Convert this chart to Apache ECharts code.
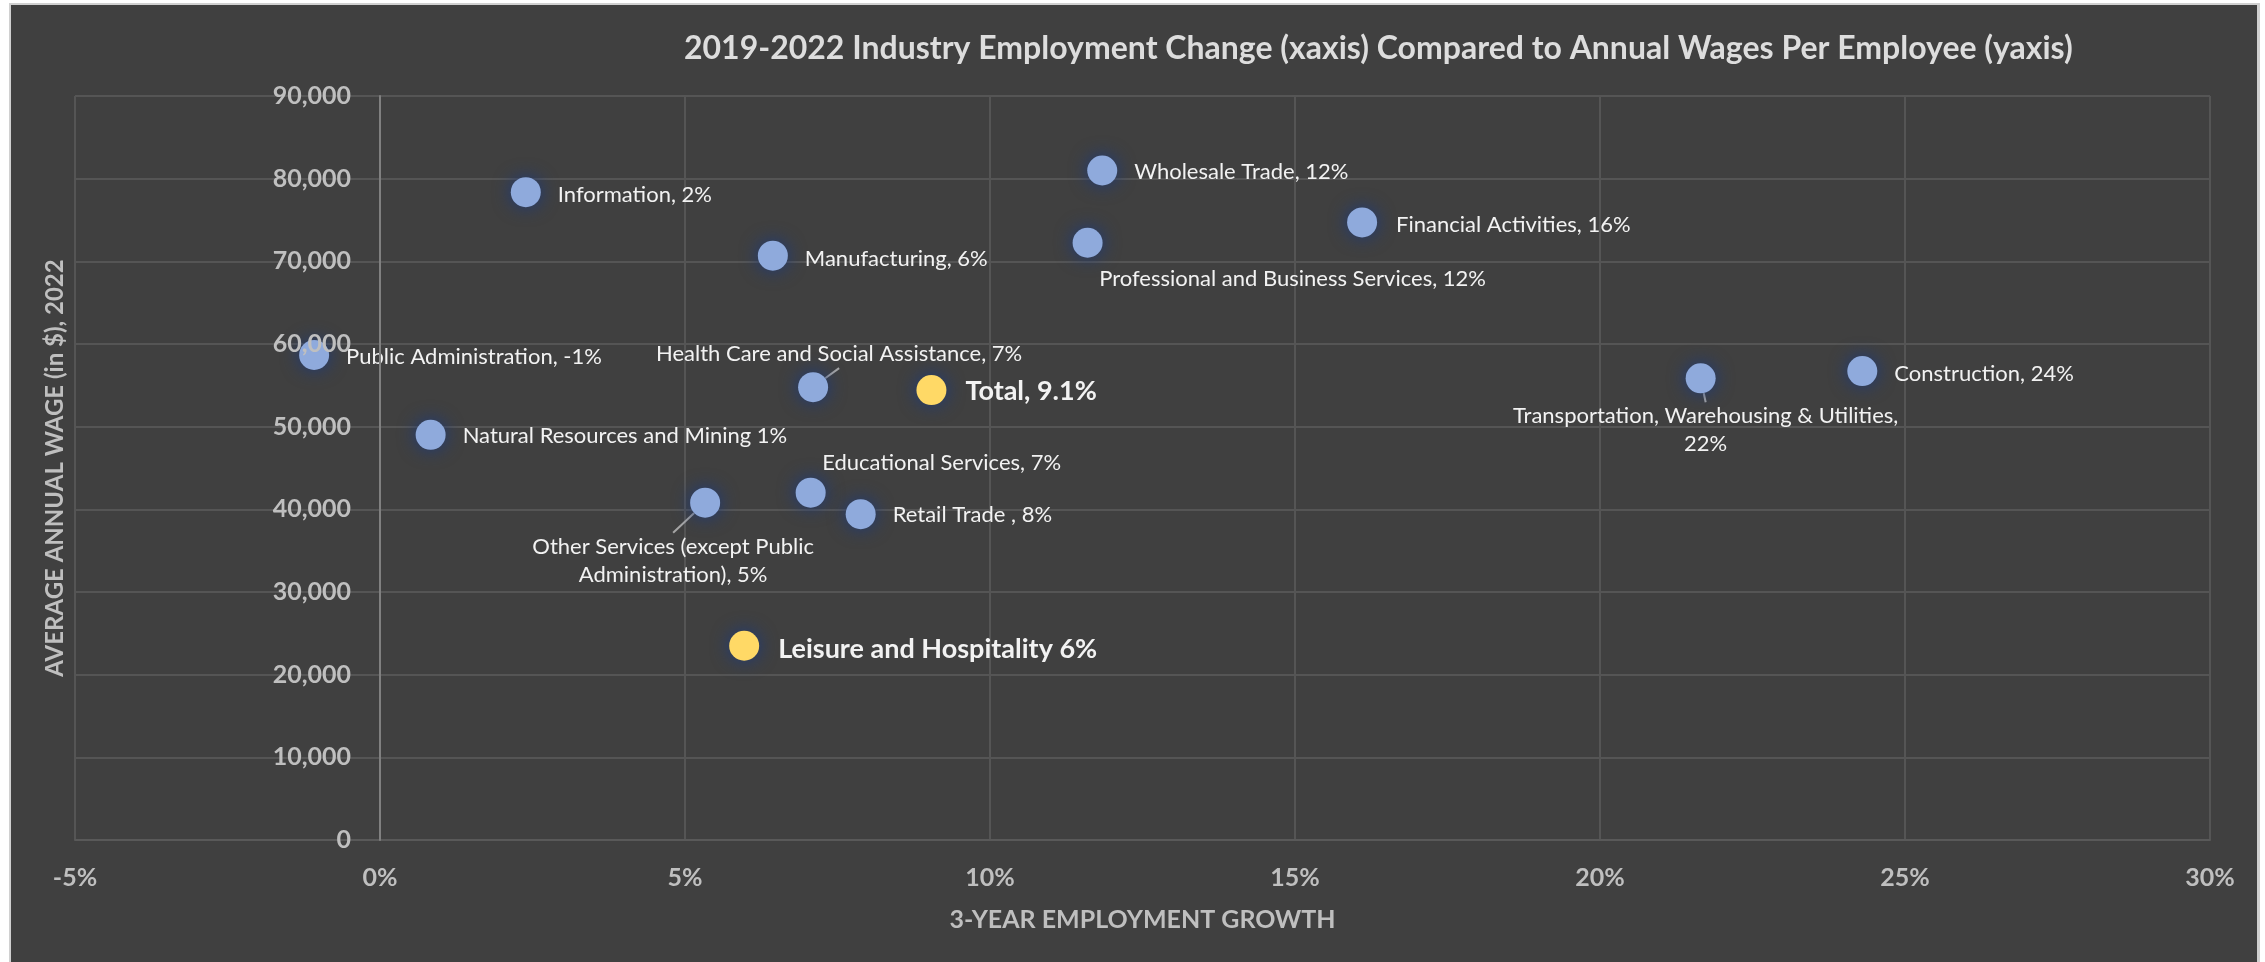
<!DOCTYPE html>
<html>
<head>
<meta charset="utf-8">
<script src="https://cdn.jsdelivr.net/npm/echarts@6/dist/echarts.min.js"></script>
<style>
html,body{margin:0;padding:0;background:#ffffff;width:2265px;height:962px;overflow:hidden}
#frame{position:absolute;left:9px;top:3px;width:2251px;height:959px;background:#d0d0d0}
#chart{position:absolute;left:11px;top:5px;width:2246px;height:957px}
</style>
</head>
<body>
<div id="frame"></div>
<div id="chart"></div>
<script>
// ---- data ----
const industries = [
  'Public Administration', 'Information', 'Manufacturing', 'Wholesale Trade',
  'Financial Activities', 'Professional and Business Services',
  'Health Care and Social Assistance', 'Total', 'Natural Resources and Mining',
  'Educational Services', 'Other Services (except Public Administration)',
  'Retail Trade', 'Leisure and Hospitality',
  'Transportation, Warehousing & Utilities', 'Construction'
];
const growthPct = [-1.08, 2.39, 6.44, 11.84, 16.10, 11.60, 7.10, 9.04, 0.83, 7.06, 5.33, 7.88, 5.97, 21.65, 24.30];
const avgWage  = [58670, 78370, 70680, 80990, 74700, 72250, 54780, 54430, 49010, 42020, 40800, 39410, 23500, 55850, 56730];
const labelText = [
  'Public Administration, -1%', 'Information, 2%', 'Manufacturing, 6%', 'Wholesale Trade, 12%',
  'Financial Activities, 16%', 'Professional and Business Services, 12%',
  'Health Care and Social Assistance, 7%', 'Total, 9.1%', 'Natural Resources and Mining 1%',
  'Educational Services, 7%', 'Other Services (except Public\nAdministration), 5%',
  'Retail Trade , 8%', 'Leisure and Hospitality 6%',
  'Transportation, Warehousing & Utilities,\n22%', 'Construction, 24%'
];
const highlighted = ['Total', 'Leisure and Hospitality'];
const xTickValues = [-5, 0, 5, 10, 15, 20, 25, 30];
const yTickValues = [0, 10000, 20000, 30000, 40000, 50000, 60000, 70000, 80000, 90000];

// ---- label placement (style) ----
const placement = {
  'Public Administration': {side: 'right', gap: 17, dy: 2},
  'Information': {side: 'right', gap: 17, dy: 3},
  'Manufacturing': {side: 'right', gap: 17, dy: 3},
  'Wholesale Trade': {side: 'right', gap: 17, dy: 1},
  'Financial Activities': {side: 'right', gap: 19, dy: 2},
  'Professional and Business Services': {side: 'center', dx: 205, dy: 36},
  'Health Care and Social Assistance': {side: 'center', dx: 26, dy: -33, line: true},
  'Total': {side: 'right', gap: 19, dy: 1},
  'Natural Resources and Mining': {side: 'right', gap: 17, dy: 1},
  'Educational Services': {side: 'center', dx: 131, dy: -30},
  'Other Services (except Public Administration)': {side: 'center', dx: -32, dy: 58, line: true},
  'Retail Trade': {side: 'right', gap: 17, dy: 1},
  'Leisure and Hospitality': {side: 'right', gap: 19, dy: 4},
  'Transportation, Warehousing & Utilities': {side: 'center', dx: 5, dy: 52, line: true},
  'Construction': {side: 'right', gap: 17, dy: 3}
};

const FONT = 'Lato';
const chart = echarts.init(document.getElementById('chart'));

const seriesData = industries.map(function (name, i) {
  const hi = highlighted.indexOf(name) >= 0;
  const p = placement[name];
  return {
    name: name,
    value: [growthPct[i], avgWage[i]],
    itemStyle: {
      color: hi ? '#FFD966' : '#8FAADC',
      opacity: 1,
      shadowBlur: 18,
      shadowColor: 'rgba(28,58,125,1)'
    },
    label: {
      show: true,
      formatter: labelText[i],
      color: '#F2F2F2',
      fontFamily: FONT,
      fontSize: hi ? 27 : 22,
      fontWeight: hi ? 'bold' : 'normal',
      lineHeight: 28
    },
    labelLine: {
      show: !!p.line,
      length2: 0,
      lineStyle: {color: '#A6A6A6', width: 2}
    }
  };
});

const option = {
  animation: false,
  backgroundColor: '#404040',
  title: {
    text: '2019-2022 Industry Employment Change (xaxis) Compared to Annual Wages Per Employee (yaxis)',
    left: 668,
    top: 23,
    textStyle: {color: '#DDDDDD', fontFamily: FONT, fontWeight: 'bold', fontSize: 32}
  },
  grid: {left: 64, right: 47, top: 91, bottom: 122, containLabel: false, outerBoundsMode: 'none'},
  xAxis: {
    type: 'value',
    min: xTickValues[0],
    max: xTickValues[xTickValues.length - 1],
    interval: xTickValues[1] - xTickValues[0],
    axisLine: {show: true, onZero: false, lineStyle: {color: '#595959', width: 2}},
    axisTick: {show: false},
    axisLabel: {
      color: '#BFBFBF', fontFamily: FONT, fontWeight: 'bold', fontSize: 25, margin: 25,
      formatter: function (v) { return v + '%'; }
    },
    splitLine: {show: true, lineStyle: {color: '#555555', width: 2}},
    name: '3-YEAR EMPLOYMENT GROWTH',
    nameLocation: 'middle',
    nameGap: 67,
    nameTextStyle: {color: '#BFBFBF', fontFamily: FONT, fontWeight: 'bold', fontSize: 25}
  },
  yAxis: [{
    type: 'value',
    z: 3,
    min: yTickValues[0],
    max: yTickValues[yTickValues.length - 1],
    interval: yTickValues[1] - yTickValues[0],
    axisLine: {show: true, onZero: false, lineStyle: {color: '#808080', width: 2}},
    axisTick: {show: false},
    axisLabel: {
      color: '#BFBFBF', fontFamily: FONT, fontWeight: 'bold', fontSize: 25, margin: 29,
      formatter: function (v) { return v.toLocaleString('en-US'); }
    },
    splitLine: {show: false},
    name: 'AVERAGE ANNUAL WAGE (in $), 2022',
    nameLocation: 'middle',
    nameGap: 313,
    nameTextStyle: {color: '#BFBFBF', fontFamily: FONT, fontWeight: 'bold', fontSize: 24}
  }, {
    type: 'value',
    z: 0,
    min: yTickValues[0],
    max: yTickValues[yTickValues.length - 1],
    interval: yTickValues[1] - yTickValues[0],
    axisLine: {show: false},
    axisTick: {show: false},
    axisLabel: {show: false},
    splitLine: {show: true, lineStyle: {color: '#555555', width: 2}}
  }],
  series: [{
    type: 'scatter',
    yAxisIndex: 0,
    symbol: 'circle',
    symbolSize: 30,
    z: 2,
    data: seriesData,
    labelLayout: function (params) {
      const name = industries[params.dataIndex];
      const p = placement[name];
      const r = params.rect;
      const cx = r.x + r.width / 2;
      const cy = r.y + r.height / 2;
      if (p.side === 'right') {
        return {x: r.x + r.width + p.gap, y: cy + p.dy, align: 'left', verticalAlign: 'middle'};
      }
      return {x: cx + p.dx, y: cy + p.dy, align: 'center', verticalAlign: 'middle'};
    }
  }]
};
chart.setOption(option);

// Move the wage axis so it crosses the growth axis at 0%, using the library's own scale.
const zeroPx = chart.convertToPixel({xAxisIndex: 0}, 0);
const minPx = chart.convertToPixel({xAxisIndex: 0}, xTickValues[0]);
chart.setOption({yAxis: [{offset: -(zeroPx - minPx)}, {}]});
</script>
</body>
</html>
